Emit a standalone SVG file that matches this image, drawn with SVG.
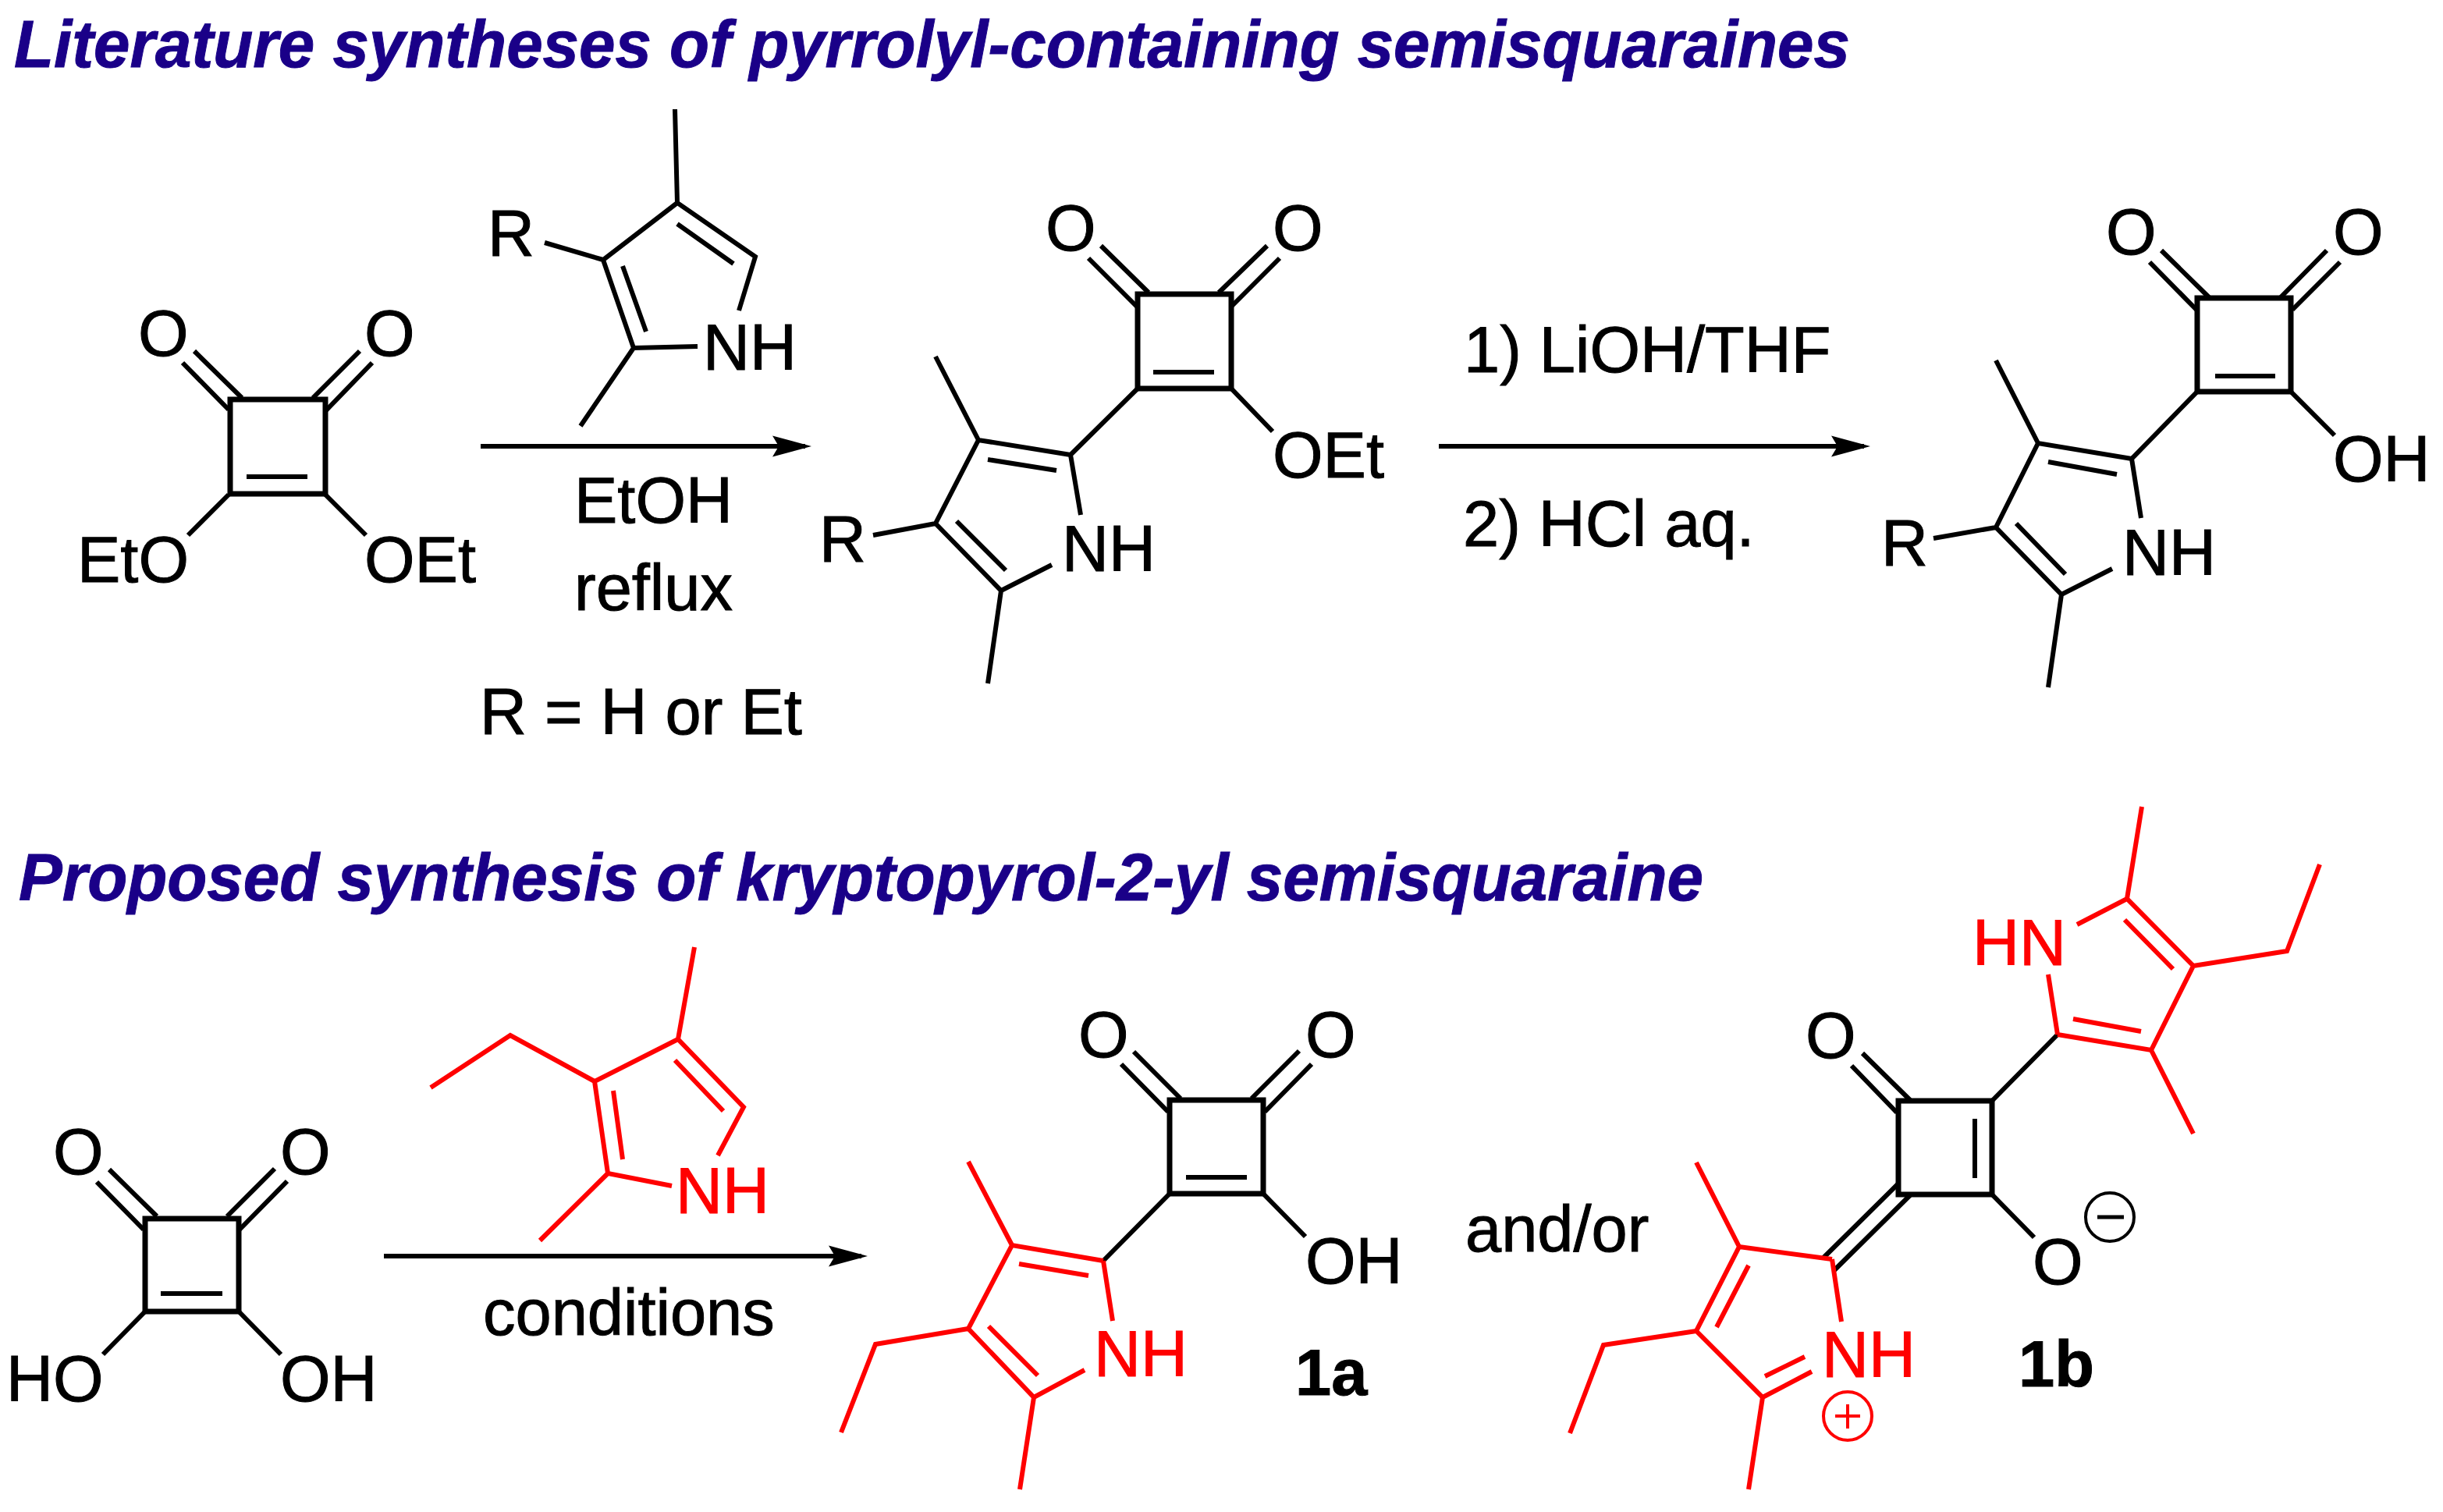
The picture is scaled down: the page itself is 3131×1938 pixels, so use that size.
<svg xmlns="http://www.w3.org/2000/svg" width="3131" height="1938" viewBox="0 0 3131 1938">
<style>
text{font-family:"Liberation Sans",Arial,sans-serif;font-size:83px;fill:#000;stroke:#000;stroke-width:1}
.t{font-weight:bold;font-style:italic;font-size:85px;fill:#1a0088;stroke:#1a0088}
.b{font-weight:bold}
.r{fill:#f00;stroke:#f00}
.k,.e,.a{fill:none;stroke-linecap:butt;stroke-linejoin:miter}
.k{stroke:#000;stroke-width:6}
.e{stroke:#f00;stroke-width:6}
.q{fill:none;stroke:#000;stroke-width:7}
.a{stroke:#000;stroke-width:6}
</style>
<defs>
<marker id="head" markerUnits="userSpaceOnUse" markerWidth="52" markerHeight="28" refX="42" refY="14" orient="auto"><path d="M0 0.5L50 14L0 27.5L8 14Z" fill="#000"/></marker>
</defs>
<rect width="3131" height="1938" fill="#fff"/>
<g id="title1"><text class="t" x="18" y="86" textLength="2353" lengthAdjust="spacingAndGlyphs">Literature syntheses of pyrrolyl-containing semisquaraines</text></g>
<g id="title2"><text class="t" x="24" y="1154" textLength="2159" lengthAdjust="spacingAndGlyphs">Proposed synthesis of kryptopyrol-2-yl semisquaraine</text></g>

<g id="diethyl-squarate">
<rect class="q" x="295" y="512" width="122" height="121"/>
<path class="k" d="M234 465L293 525M249 450L310 510M461 450L401 510M477 465L417 527M316 611H394M293 634L241 686M417 634L469 686"/>
<text x="177" y="456">O</text><text x="467" y="456">O</text>
<text x="99" y="746">EtO</text><text x="467" y="746">OEt</text>
</g>

<g id="pyrrole-reagent">
<path class="k" d="M865 140L868 260L968 329L947 398M868 287L940 338M868 260L773 333L812 446L894 444M798 341L828 425M698 311L773 333M812 446L744 546"/>
<text x="625" y="328">R</text><text x="901" y="474">NH</text>
</g>

<g id="conditions-1">
<text x="736" y="670">EtOH</text><text x="736" y="782">reflux</text><text x="615" y="941">R = H or Et</text>
</g>

<g id="product-ester">
<rect class="q" x="1458" y="377" width="120" height="121"/>
<path class="k" d="M1395 331L1457 393M1411 315L1472 375M1624 315L1562 375M1640 331L1578 393M1478 477H1556M1578 498L1631 553M1458 498L1372 583L1254 564L1199 671L1283 757L1348 724M1372 583L1385 660M1266 589L1354 603M1199 457L1254 564M1226 668L1289 731M1283 757L1266 876M1119 686L1199 671"/>
<text x="1340" y="321">O</text><text x="1631" y="321">O</text>
<text x="1631" y="612">OEt</text><text x="1050" y="720">R</text><text x="1361" y="732">NH</text>
</g>

<g id="conditions-2">
<text x="1876" y="477">1) LiOH/THF</text><text x="1875" y="700">2) HCl aq.</text>
</g>

<g id="product-acid">
<rect class="q" x="2816" y="382" width="120" height="120"/>
<path class="k" d="M2755 336L2815 397M2770 321L2831 381M2982 321L2923 381M2999 336L2938 397M2839 482H2916M2936 502L2992 558M2816 502L2732 588L2612 568L2558 676L2642 762L2707 729M2732 588L2744 664M2625 592L2713 608M2558 462L2612 568M2584 671L2647 736M2642 762L2625 881M2478 690L2558 676"/>
<text x="2699" y="326">O</text><text x="2990" y="326">O</text>
<text x="2990" y="617">OH</text><text x="2411" y="725">R</text><text x="2720" y="737">NH</text>
</g>

<g id="squaric-acid">
<rect class="q" x="186" y="1562" width="120" height="119"/>
<path class="k" d="M124 1515L184 1576M140 1499L201 1559M352 1498L291 1559M368 1514L307 1576M206 1658H285M186 1681L132 1736M306 1681L360 1736"/>
<text x="68" y="1505">O</text><text x="359" y="1505">O</text>
<text x="8" y="1796">HO</text><text x="359" y="1796">OH</text>
</g>

<g id="kryptopyrrole">
<path class="e" d="M890 1214L869 1332L953 1419L920 1481M865 1359L927 1424M552 1394L654 1327L762 1386M869 1332L762 1386L779 1504L861 1520M786 1398L798 1486M779 1504L692 1590"/>
<text class="r" x="866" y="1555">NH</text>
</g>

<g id="conditions-3"><text x="619" y="1711">conditions</text></g>

<g id="compound-1a">
<rect class="q" x="1499" y="1410" width="120" height="120"/>
<path class="k" d="M1437 1364L1497 1425M1453 1348L1513 1408M1665 1347L1604 1408M1681 1364L1621 1425M1520 1509H1598M1619 1530L1673 1585M1499 1530L1414 1616"/>
<path class="e" d="M1414 1616L1297 1596L1241 1703L1325 1791L1390 1756M1414 1616L1426 1693M1306 1620L1395 1635M1241 1489L1297 1596M1267 1700L1330 1763M1325 1791L1307 1909M1241 1703L1122 1723L1078 1836"/>
<text x="1382" y="1355">O</text><text x="1673" y="1355">O</text><text x="1673" y="1645">OH</text>
<text class="r" x="1402" y="1764">NH</text>
<text class="b" x="1660" y="1788">1a</text>
</g>

<g id="and-or"><text x="1878" y="1604">and/or</text></g>

<g id="compound-1b">
<rect class="q" x="2433" y="1411" width="120" height="120"/>
<path class="k" d="M2373 1366L2431 1426M2387 1350L2448 1410M2531 1434V1510M2553 1531L2607 1586M2433 1517L2336 1613M2448 1532L2351 1628M2553 1411L2637 1326"/>
<path class="e" d="M2348 1614L2229 1598L2174 1706L2259 1791L2322 1758M2348 1614L2360 1694M2174 1490L2229 1598M2241 1622L2200 1701M2174 1706L2055 1724L2012 1837M2262 1764L2313 1739M2259 1791L2241 1909M2637 1326L2757 1346L2811 1238L2726 1152L2662 1185M2657 1306L2744 1322M2757 1346L2811 1453M2785 1242L2723 1179M2637 1326L2625 1249M2726 1152L2745 1034M2811 1238L2931 1219L2973 1108"/>
<text x="2314" y="1356">O</text><text x="2605" y="1646">O</text>
<circle cx="2704" cy="1560" r="31" fill="none" stroke="#000" stroke-width="4"/>
<path d="M2688 1560H2722" stroke="#000" stroke-width="5" fill="none"/>
<text class="r" x="2335" y="1765">NH</text>
<circle cx="2368" cy="1815" r="31" fill="none" stroke="#f00" stroke-width="4"/>
<path d="M2352 1815H2384M2368 1800V1831" stroke="#f00" stroke-width="4" fill="none"/>
<text class="r" x="2528" y="1237">HN</text>
<text class="b" x="2587" y="1777">1b</text>
</g>

<g id="connectors">
<path class="a" d="M616 572H1032" marker-end="url(#head)"/>
<path class="a" d="M1844 572H2389" marker-end="url(#head)"/>
<path class="a" d="M492 1610H1104" marker-end="url(#head)"/>
</g>
</svg>
